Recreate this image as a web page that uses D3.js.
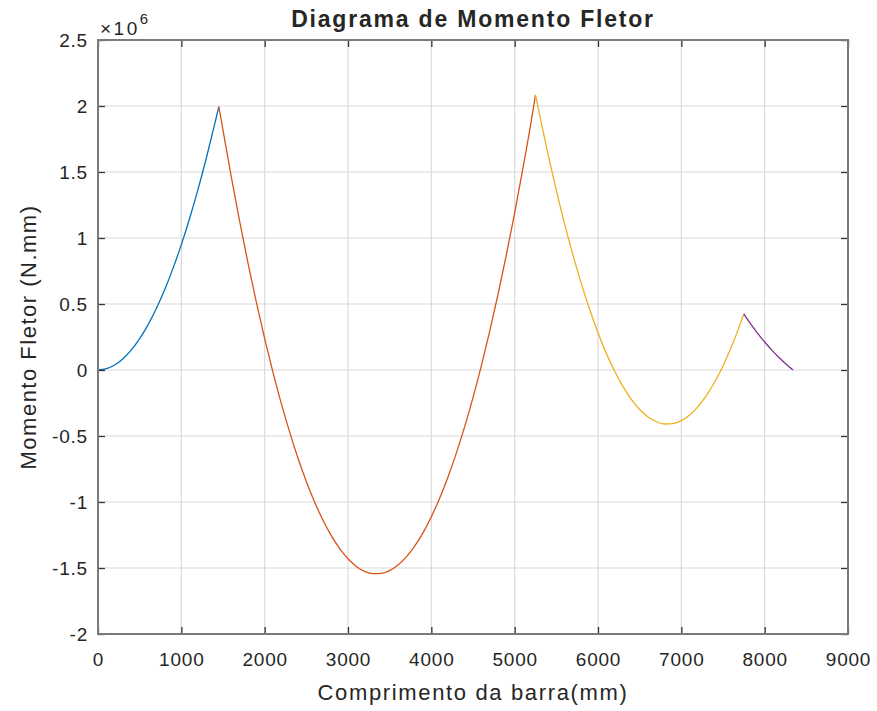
<!DOCTYPE html>
<html>
<head>
<meta charset="utf-8">
<script src="https://cdn.jsdelivr.net/npm/d3@7"></script>
<style>
  body { margin: 0; background: #fff; }
  text { font-family: "Liberation Sans", Arial, Helvetica, sans-serif; fill: #262626; }
</style>
</head>
<body>
<div id="chart"></div>
<script>
// moment values are in units of 10^6 N.mm (axis shows x10^6)
const x1 = [0, 100, 200, 300, 400, 500, 600, 700, 800, 900, 1000, 1100, 1200, 1300, 1400, 1450]
const m1 = [0, 0.010, 0.038, 0.086, 0.152, 0.238, 0.342, 0.466, 0.608, 0.770, 0.950, 1.150, 1.368, 1.606, 1.862, 1.995]

const x2 = [1450, 1500, 1600, 1700, 1800, 1900, 2000, 2100, 2200, 2300, 2400, 2500, 2600, 2700, 2800, 2900,
    3000, 3100, 3200, 3300, 3400, 3500, 3600, 3700, 3800, 3900, 4000, 4100, 4200, 4300, 4400, 4500,
    4600, 4700, 4800, 4900, 5000, 5100, 5200, 5250]
const m2 = [1.995, 1.817, 1.461, 1.126, 0.810, 0.514, 0.238, -0.018, -0.255, -0.471, -0.668, -0.844, -1.001, -1.138, -1.255, -1.353,
    -1.430, -1.488, -1.526, -1.543, -1.541, -1.520, -1.478, -1.416, -1.335, -1.234, -1.112, -0.971, -0.811, -0.630, -0.429, -0.209,
    0.031, 0.292, 0.572, 0.872, 1.191, 1.531, 1.890, 2.085]

const x3 = [5250, 5300, 5400, 5500, 5600, 5700, 5800, 5900, 6000, 6100, 6200, 6300, 6400, 6500, 6600, 6700,
    6800, 6900, 7000, 7100, 7200, 7300, 7400, 7500, 7600, 7700, 7750]
const m3 = [2.085, 1.931, 1.636, 1.361, 1.105, 0.870, 0.654, 0.458, 0.282, 0.126, -0.010, -0.126, -0.223, -0.299, -0.356, -0.392,
    -0.409, -0.406, -0.383, -0.340, -0.277, -0.194, -0.091, 0.031, 0.174, 0.336, 0.425]

const x4 = [7750, 7800, 7900, 8000, 8100, 8200, 8300, 8340]
const m4 = [0.425, 0.378, 0.291, 0.212, 0.141, 0.077, 0.020, 0]

const xTicks = [0, 1000, 2000, 3000, 4000, 5000, 6000, 7000, 8000, 9000]
const yTicks = [-2, -1.5, -1, -0.5, 0, 0.5, 1, 1.5, 2, 2.5]
const colors = ['#0072BD', '#D95319', '#EDB120', '#7E2F8E']

const title = 'Diagrama de Momento Fletor'
const xLabel = 'Comprimento da barra(mm)'
const yLabel = 'Momento Fletor (N.mm)'

const w = 877
const h = 711
const m = { left: 98, right: 29, top: 40, bottom: 77 }
const iw = w - m.left - m.right
const ih = h - m.top - m.bottom

const xScale = d3.scaleLinear().domain([0, 9000]).range([0, iw])
const yScale = d3.scaleLinear().domain([-2, 2.5]).range([ih, 0])

const svg = d3.select('#chart')
    .append('svg')
    .attr('width', w)
    .attr('height', h)

const g = svg.append('g')
    .attr('transform', 'translate(' + m.left + ',' + m.top + ')')

// grid
g.append('g')
    .selectAll('line')
    .data(xTicks.slice(1, -1))
    .enter()
    .append('line')
    .attr('x1', d => xScale(d)).attr('x2', d => xScale(d))
    .attr('y1', 0).attr('y2', ih)
    .attr('stroke', '#dadada').attr('stroke-width', 1.2)

g.append('g')
    .selectAll('line')
    .data(yTicks.slice(1, -1))
    .enter()
    .append('line')
    .attr('y1', d => yScale(d)).attr('y2', d => yScale(d))
    .attr('x1', 0).attr('x2', iw)
    .attr('stroke', '#dadada').attr('stroke-width', 1.2)

// curves
const segments = [[x1, m1], [x2, m2], [x3, m3], [x4, m4]]
const line = d3.line()
    .x(d => xScale(d[0]))
    .y(d => yScale(d[1]))
    .curve(d3.curveMonotoneX)

segments.forEach((s, i) => {
    const pts = s[0].map((x, j) => [x, s[1][j]])
    g.append('path')
        .datum(pts)
        .attr('fill', 'none')
        .attr('stroke', colors[i])
        .attr('stroke-width', 1.3)
        .attr('d', line)
})

// axes (inward ticks on all four sides)
const fmt = d => String(d)
const styleAxis = sel => {
    sel.select('.domain').remove()
    sel.selectAll('.tick line').attr('stroke', '#333').attr('stroke-width', 1.3)
    sel.selectAll('text')
        .style('font-size', '19px')
        .style('letter-spacing', '0.8px')
        .attr('fill', '#262626')
}

g.append('g')
    .attr('transform', 'translate(0,' + ih + ')')
    .call(d3.axisBottom(xScale).tickValues(xTicks).tickFormat(fmt).tickSize(-7).tickPadding(19))
    .call(styleAxis)

g.append('g')
    .call(d3.axisTop(xScale).tickValues(xTicks).tickFormat('').tickSize(-7))
    .call(styleAxis)

g.append('g')
    .call(d3.axisLeft(yScale).tickValues(yTicks).tickFormat(fmt).tickSize(-7).tickPadding(10))
    .call(styleAxis)

g.append('g')
    .attr('transform', 'translate(' + iw + ',0)')
    .call(d3.axisRight(yScale).tickValues(yTicks).tickFormat('').tickSize(-7))
    .call(styleAxis)

// box
g.append('rect')
    .attr('width', iw)
    .attr('height', ih)
    .attr('fill', 'none')
    .attr('stroke', '#7a7a7a')
    .attr('stroke-width', 2)

// exponent label
const ex = svg.append('text')
    .attr('x', 100)
    .attr('y', 35)
    .style('font-size', '19px')
    .style('letter-spacing', '2.5px')
ex.append('tspan').text('\u00d710')
ex.append('tspan').attr('dy', -11).style('font-size', '15px').style('letter-spacing', '0px').text('6')

// title and labels
svg.append('text')
    .attr('x', m.left + iw / 2)
    .attr('y', 27)
    .attr('text-anchor', 'middle')
    .style('font-size', '23px')
    .style('font-weight', 'bold')
    .style('letter-spacing', '1.8px')
    .attr('fill', '#000')
    .text(title)

svg.append('text')
    .attr('x', m.left + iw / 2)
    .attr('y', 700)
    .attr('text-anchor', 'middle')
    .style('font-size', '22px')
    .style('letter-spacing', '1.65px')
    .text(xLabel)

svg.append('text')
    .attr('transform', 'translate(36,' + (m.top + ih / 2) + ') rotate(-90)')
    .attr('text-anchor', 'middle')
    .style('font-size', '22px')
    .style('letter-spacing', '1.5px')
    .text(yLabel)
</script>
</body>
</html>
